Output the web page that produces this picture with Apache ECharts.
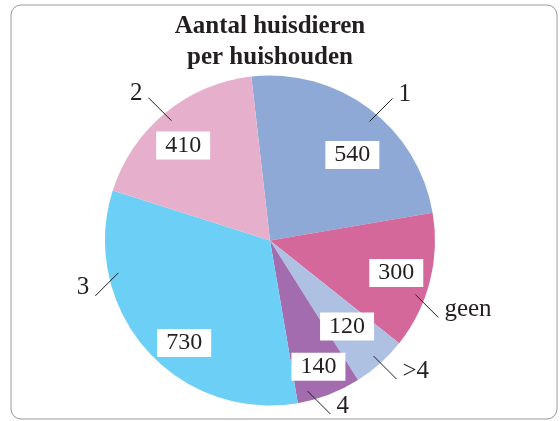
<!DOCTYPE html>
<html>
<head>
<meta charset="utf-8">
<script src="https://cdn.jsdelivr.net/npm/echarts@6/dist/echarts.min.js"></script>
<style>
  html, body { margin: 0; padding: 0; background: #fff; }
  #main { width: 560px; height: 421px; }
</style>
</head>
<body>
<div id="main"></div>
<script>
// data
const categories = ['1', 'geen', '>4', '4', '3', '2'];
const households = [540, 300, 120, 140, 730, 410];
const sliceColors = ['#8EA9D5', '#D4689B', '#AFC1E3', '#A26CAE', '#6CCFF6', '#E6B0CD'];

// geometry of the pie (pixels)
const CX = 270, CY = 240.5, R = 165;
const START = -6.5; // graden, met de klok mee vanaf 12 uur
const total = households.reduce((a, b) => a + b, 0);
// labels die in het origineel niet precies op het midden van de sector staan
const nameAngleShift = { '1': 3, 'geen': 6, '4': 7, '3': 29 };
const valueAngleShift = { '1': 7, '3': -9, '2': -3 };
const valueRadius = { '1': 0.72, 'geen': 0.79, '>4': 0.70, '4': 0.82, '3': 0.81, '2': 0.78 };
const fontFam = '"Liberation Serif", "Times New Roman", serif';
const ink = '#231F20';

function midAngle(i) {
    let before = 0;
    for (let k = 0; k < i; k++) before += households[k];
    return START + 360 * (before + households[i] / 2) / total;
}

function polar(deg, r) {
    const th = deg * Math.PI / 180;
    return [CX + r * Math.sin(th), CY - r * Math.cos(th)];
}

const pieData = categories.map((c, i) => ({
    name: c,
    value: households[i],
    itemStyle: { color: sliceColors[i] }
}));
const ghostData = categories.map((c, i) => ({ name: c, value: households[i] }));

const basePie = {
    type: 'pie',
    center: [CX, CY],
    radius: [0, R],
    startAngle: 90 - START,
    clockwise: true,
    avoidLabelOverlap: false,
    silent: true,
    emphasis: { disabled: true }
};

let myChart = echarts.init(document.getElementById('main'));
let option = {
    backgroundColor: '#fff',
    animation: false,
    title: {
        text: 'Aantal huisdieren\nper huishouden',
        left: 265,
        top: 6,
        textAlign: 'center',
        textStyle: {
            fontFamily: fontFam,
            fontWeight: 'bold',
            fontSize: 25,
            lineHeight: 31,
            color: ink
        }
    },
    graphic: [{
        type: 'rect',
        shape: { x: 11, y: 5, width: 546, height: 414, r: 10 },
        style: { fill: 'none', stroke: '#9a9a9a', lineWidth: 1 },
        silent: true
    }],
    series: [
        Object.assign({}, basePie, {
            // de taart zelf
            z: 1,
            data: pieData,
            label: { show: false },
            labelLine: { show: false }
        }),
        Object.assign({}, basePie, {
            // waarden in witte vakjes
            z: 4,
            itemStyle: { color: 'rgba(0,0,0,0)' },
            data: ghostData,
            label: {
                show: true,
                position: 'inside',
                formatter: '{c}',
                fontFamily: fontFam,
                fontSize: 24,
                lineHeight: 24,
                color: ink,
                backgroundColor: '#fff',
                padding: [2, 9]
            },
            labelLine: { show: false },
            labelLayout: function (p) {
                const c = categories[p.dataIndex];
                const pt = polar(midAngle(p.dataIndex) + (valueAngleShift[c] || 0), (valueRadius[c] || 0.78) * R);
                return { x: pt[0], y: pt[1], align: 'center', verticalAlign: 'middle', hideOverlap: false };
            }
        }),
        Object.assign({}, basePie, {
            // namen met schuine streepjes
            z: 5,
            itemStyle: { color: 'rgba(0,0,0,0)' },
            data: ghostData,
            label: {
                show: true,
                position: 'outside',
                formatter: '{b}',
                fontFamily: fontFam,
                fontSize: 25,
                color: ink
            },
            labelLine: {
                show: true,
                length: 10,
                length2: 10,
                lineStyle: { color: ink, width: 1 }
            },
            labelLayout: function (p) {
                const i = p.dataIndex;
                const deg = midAngle(i) + (nameAngleShift[categories[i]] || 0);
                const p0 = polar(deg, 0.94 * R);
                const th = deg * Math.PI / 180;
                const hx = Math.sin(th) >= 0 ? 1 : -1, hy = -Math.cos(th) >= 0 ? 1 : -1;
                const x1 = p0[0] + 23 * hx, y1 = p0[1] + 23 * hy;
                return {
                    x: x1 + 6 * hx,
                    y: y1 + (hy < 0 ? -4 : -8),
                    align: hx > 0 ? 'left' : 'right',
                    verticalAlign: 'middle',
                    labelLinePoints: [[p0[0], p0[1]], [x1, y1], [x1, y1]]
                };
            }
        })
    ]
};
option && myChart.setOption(option);
</script>
</body>
</html>
